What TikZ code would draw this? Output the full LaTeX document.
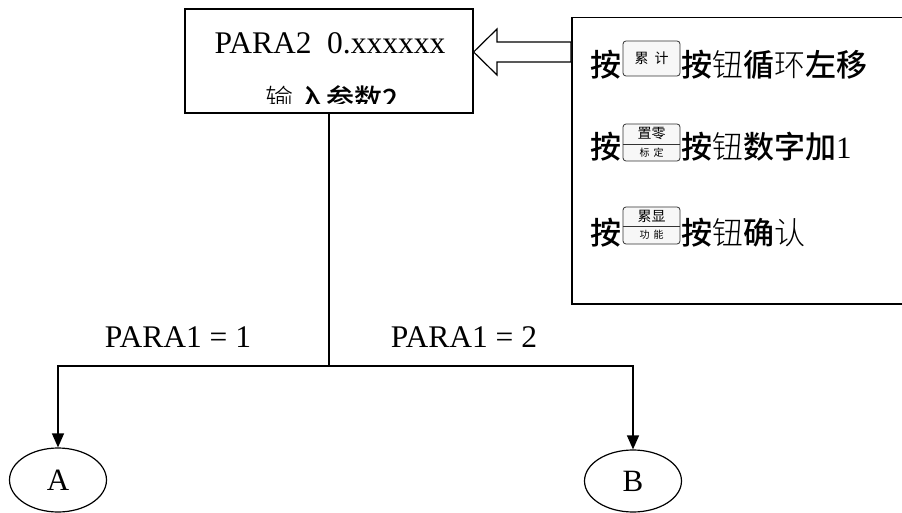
\documentclass[tikz,border=0pt]{standalone}
\usepackage{fontspec}
\setmainfont{Liberation Serif}
\newfontfamily\cjk{Noto Sans CJK SC}
\newfontfamily\cjkmed{Noto Sans CJK SC Medium}
\newfontfamily\cjklight{Noto Sans CJK SC Light}
\usetikzlibrary{arrows.meta,shapes.geometric}
\newcommand\cjkH[1]{{\cjkmed #1}}
\newcommand\cjkL[1]{{\cjklight #1}}
\tikzset{
  box/.style={draw, line width=1.2pt, inner sep=0pt},
  serif/.style={inner sep=0pt, font=\fontsize{31.5}{31.5}\selectfont},
  txt/.style={inner sep=0pt, font=\fontsize{31}{31}\selectfont},
  btn/.style={draw=black!80, rounded corners=3pt, fill=black!3, line width=0.8pt,
              minimum width=57pt, inner sep=0pt},
  btntop/.style={inner sep=0pt, font=\fontsize{14}{14}\selectfont\cjk},
  btnbot/.style={inner sep=0pt, font=\fontsize{10}{10}\selectfont\cjk},
  ell/.style={draw, ellipse, line width=1.2pt, inner sep=0pt,
              font=\fontsize{31}{31}\selectfont},
  conn/.style={line width=1.3pt},
  arr/.style={conn, -{Triangle[length=14pt,width=12pt]}}
}
\begin{document}
\begin{tikzpicture}[x=1pt,y=-1pt]
\clip (0,0) rectangle (902,513);
\fill[white] (0,0) rectangle (902,513);

% left display box
\node[box, minimum width=288pt, minimum height=104pt] (para) at (329,61) {};
\node[serif] (ptxt) at (330,43) {PARA2~~0.xxxxxx};
\begin{scope}
  \clip (187,70) rectangle (471,104);
  \node[inner sep=0pt, font=\fontsize{28}{28}\selectfont] (ptxt2) at (332,99)
    {\cjkL{输}\,\cjkH{入参数2}};
\end{scope}

% right key box
\node[box, line width=1.5pt, minimum width=335pt, minimum height=286pt,
      anchor=north west] (keys) at (571,17) {};

% hollow arrow from key box to display box
\draw[line width=1.2pt, fill=white] (para.east |- 0,52) -- (497,29) -- (497,42)
  -- (keys.west |- 0,42) -- (keys.west |- 0,62) -- (497,62) -- (497,75) -- cycle;

% line 1
\node[txt, anchor=east] (p1) at (622,65) {\cjkH{按}};
\node[btn, minimum height=35pt] (k1) at (651.5,58.5) {};
\node[inner sep=0pt, font=\fontsize{14}{14}\selectfont\cjk] (k1t) at (k1) {累\hspace{6pt}计};
\node[txt, anchor=west] (r1) at (681,65) {\cjkH{按}\cjkL{钮}\cjkH{循}\cjkL{环}\cjkH{左移}};

% line 2
\node[txt, anchor=east] (p2) at (622,147) {\cjkH{按}};
\node[btn, minimum height=37pt] (k2) at (651.5,142.5) {};
\draw[line width=0.8pt, draw=black!80] (k2.west |- 0,144) -- (k2.east |- 0,144);
\node[btntop] (k2a) at (651.5,134) {置零};
\node[btnbot] (k2b) at (651.5,153) {标\hspace{4pt}定};
\node[txt, anchor=west] (r2) at (681,147) {\cjkH{按}\cjkL{钮}\cjkH{数字加}1};

% line 3
\node[txt, anchor=east] (p3) at (622,233) {\cjkH{按}};
\node[btn, minimum height=37pt] (k3) at (651.5,225.5) {};
\draw[line width=0.8pt, draw=black!80] (k3.west |- 0,226) -- (k3.east |- 0,226);
\node[btntop] (k3a) at (651.5,216) {累显};
\node[btnbot] (k3b) at (651.5,235) {功\hspace{4pt}能};
\node[txt, anchor=west] (r3) at (681,233) {\cjkH{按}\cjkL{钮}\cjkH{确}\cjkL{认}};

% tree
\coordinate (j) at (329,366);
\node[ell, minimum width=97pt, minimum height=64pt] (A) at (58,480) {A};
\node[ell, minimum width=97pt, minimum height=62pt] (B) at (633,481) {B};
\draw[conn] (para.south) -- (j);
\draw[arr] (j) -| (A.north);
\draw[arr] (j) -| (B.north);
\node[serif] (l1) at (178,337) {PARA1 = 1};
\node[serif] (l2) at (464,337) {PARA1 = 2};
\end{tikzpicture}
\end{document}
